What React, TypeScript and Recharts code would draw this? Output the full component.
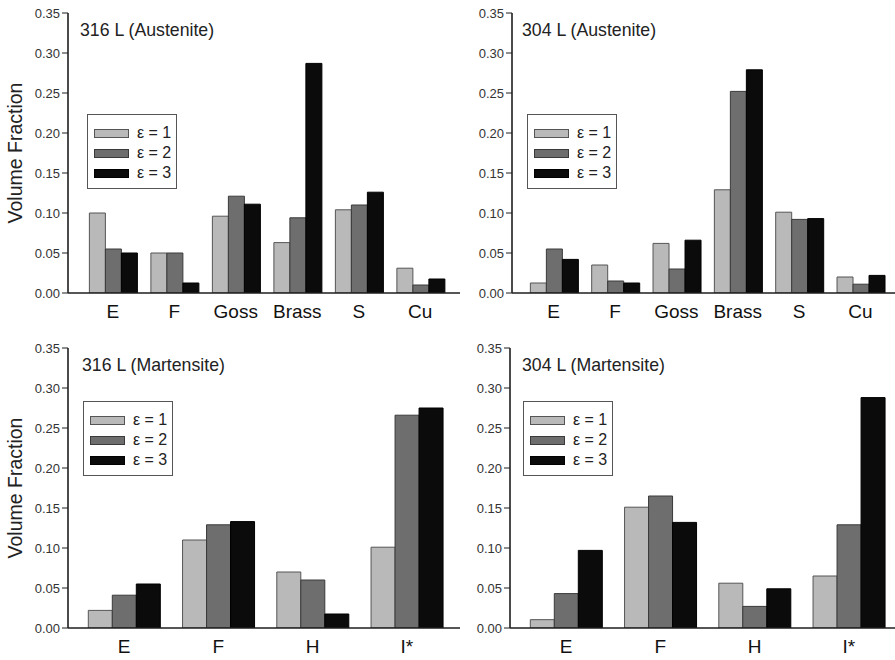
import { BarChart, Bar, XAxis, YAxis, Legend, Customized } from "recharts";

const austeniteCategories = ["E", "F", "Goss", "Brass", "S", "Cu"];
const martensiteCategories = ["E", "F", "H", "I*"];
const strainLabels = ["ε = 1", "ε = 2", "ε = 3"];
const yTicks = [0, 0.05, 0.1, 0.15, 0.2, 0.25, 0.3, 0.35];

// 316 L (Austenite)
const a316e1 = [0.1, 0.05, 0.096, 0.063, 0.104, 0.031];
const a316e2 = [0.055, 0.05, 0.121, 0.094, 0.11, 0.01];
const a316e3 = [0.05, 0.0125, 0.111, 0.287, 0.126, 0.0175];
// 304 L (Austenite)
const a304e1 = [0.0125, 0.035, 0.062, 0.129, 0.101, 0.02];
const a304e2 = [0.055, 0.015, 0.03, 0.252, 0.092, 0.011];
const a304e3 = [0.042, 0.0125, 0.066, 0.279, 0.093, 0.022];
// 316 L (Martensite)
const m316e1 = [0.022, 0.11, 0.07, 0.101];
const m316e2 = [0.041, 0.129, 0.06, 0.266];
const m316e3 = [0.055, 0.133, 0.0175, 0.275];
// 304 L (Martensite)
const m304e1 = [0.0104, 0.151, 0.056, 0.065];
const m304e2 = [0.043, 0.165, 0.027, 0.129];
const m304e3 = [0.097, 0.132, 0.049, 0.288];

const FONT = "Arial, 'Liberation Sans', Helvetica, sans-serif";
const FILLS = ["#b9b9b9", "#6e6e6e", "#0b0b0b"];
const STROKES = ["#555", "#3a3a3a", "#000"];
const AXIS = "#1e1e1e";

const Y_AXIS_W = 68;
const M_TOP = 13;
const X_AXIS_H = 40;
const PLOT_H = 280;

function StrainLegend() {
  return (
    <div
      style={{
        width: 90,
        height: 75,
        boxSizing: "border-box",
        border: "1.5px solid #555",
        background: "#fff",
        paddingTop: 8,
        fontFamily: FONT,
      }}
    >
      {strainLabels.map((s, i) => (
        <div
          key={s}
          style={{ display: "flex", alignItems: "center", height: 20 }}
        >
          <span
            style={{
              display: "inline-block",
              marginLeft: 6,
              width: 35,
              height: 9,
              boxSizing: "border-box",
              background: FILLS[i],
              border: `1px solid ${STROKES[i]}`,
            }}
          />
          <span style={{ marginLeft: 8, fontSize: 16, color: "#222" }}>{s}</span>
        </div>
      ))}
    </div>
  );
}

type PanelProps = {
  title: string;
  categories: string[];
  series: number[][];
  left: number;
  top: number;
  plotWidth: number;
  padLeft: number;
  padRight: number;
  yLabel: boolean;
  legendLeft: number;
  legendTop: number;
  titleX: number;
};

function Panel({
  title,
  categories,
  series,
  left,
  top,
  plotWidth,
  padLeft,
  padRight,
  yLabel,
  legendLeft,
  legendTop,
  titleX,
}: PanelProps) {
  const data = categories.map((c, i) => ({
    name: c,
    e1: series[0][i],
    e2: series[1][i],
    e3: series[2][i],
  }));
  const width = Y_AXIS_W + plotWidth + 6;
  const height = M_TOP + PLOT_H + X_AXIS_H;

  return (
    <div style={{ position: "absolute", left, top }}>
      <BarChart
        width={width}
        height={height}
        data={data}
        margin={{ top: M_TOP, right: 5, bottom: 0, left: 0 }}
        barGap={0}
        barCategoryGap="12%"
        style={{ fontFamily: FONT }}
      >
        <XAxis
          dataKey="name"
          tickLine={false}
          tickSize={0}
          tickMargin={12}
          height={X_AXIS_H}
          padding={{ left: padLeft, right: padRight }}
          axisLine={{ stroke: AXIS, strokeWidth: 1.6 }}
          tick={{ fontSize: 19, fill: "#111" }}
          interval={0}
        />
        <XAxis
          xAxisId="top"
          dataKey="name"
          orientation="top"
          height={0}
          tick={false}
          tickLine={false}
          axisLine={{ stroke: AXIS, strokeWidth: 1.6 }}
        />
        <YAxis
          domain={[0, 0.35]}
          ticks={yTicks}
          width={Y_AXIS_W}
          tickSize={6}
          tickMargin={2}
          tickFormatter={(v: number) => v.toFixed(2)}
          tick={{ fontSize: 13, fill: "#333" }}
          tickLine={{ stroke: AXIS }}
          axisLine={{ stroke: AXIS, strokeWidth: 1.6 }}
          allowDataOverflow
          label={
            yLabel
              ? {
                  value: "Volume Fraction",
                  angle: -90,
                  position: "insideLeft",
                  offset: 15,
                  style: { textAnchor: "middle", fontSize: 19.5, fill: "#222" },
                }
              : undefined
          }
        />
        <YAxis
          yAxisId="right"
          orientation="right"
          domain={[0, 0.35]}
          width={0}
          tick={false}
          tickLine={false}
          axisLine={{ stroke: AXIS, strokeWidth: 1.6 }}
        />
        <Legend
          layout="vertical"
          align="center"
          verticalAlign="middle"
          wrapperStyle={{ left: legendLeft, top: legendTop, width: 90, height: 75 }}
          content={() => <StrainLegend />}
        />
        <Customized
          component={() => (
            <text
              x={titleX}
              y={M_TOP + 23}
              fontSize={17.7}
              fill="#222"
              fontFamily={FONT}
            >
              {title}
            </text>
          )}
        />
        {["e1", "e2", "e3"].map((k, i) => (
          <Bar
            key={k}
            dataKey={k}
            name={strainLabels[i]}
            fill={FILLS[i]}
            stroke={STROKES[i]}
            strokeWidth={1}
            isAnimationActive={false}
          />
        ))}
      </BarChart>
    </div>
  );
}

export default function App() {
  return (
    <div
      style={{
        position: "absolute",
        left: 0,
        top: 0,
        width: 895,
        height: 660,
        overflow: "hidden",
        background: "#fff",
      }}
    >
      <Panel
        title="316 L (Austenite)"
        categories={austeniteCategories}
        series={[a316e1, a316e2, a316e3]}
        left={0}
        top={0}
        plotWidth={391}
        padLeft={14}
        padRight={9}
        yLabel
        legendLeft={87}
        legendTop={114}
        titleX={80}
      />
      <Panel
        title="304 L (Austenite)"
        categories={austeniteCategories}
        series={[a304e1, a304e2, a304e3]}
        left={444}
        top={0}
        plotWidth={388}
        padLeft={11}
        padRight={10}
        yLabel={false}
        legendLeft={83}
        legendTop={114}
        titleX={78}
      />
      <Panel
        title="316 L (Martensite)"
        categories={martensiteCategories}
        series={[m316e1, m316e2, m316e3]}
        left={0}
        top={335}
        plotWidth={391}
        padLeft={9}
        padRight={6}
        yLabel
        legendLeft={83}
        legendTop={66}
        titleX={82}
      />
      <Panel
        title="304 L (Martensite)"
        categories={martensiteCategories}
        series={[m304e1, m304e2, m304e3]}
        left={442}
        top={335}
        plotWidth={390}
        padLeft={9}
        padRight={5}
        yLabel={false}
        legendLeft={81}
        legendTop={66}
        titleX={80}
      />
    </div>
  );
}
